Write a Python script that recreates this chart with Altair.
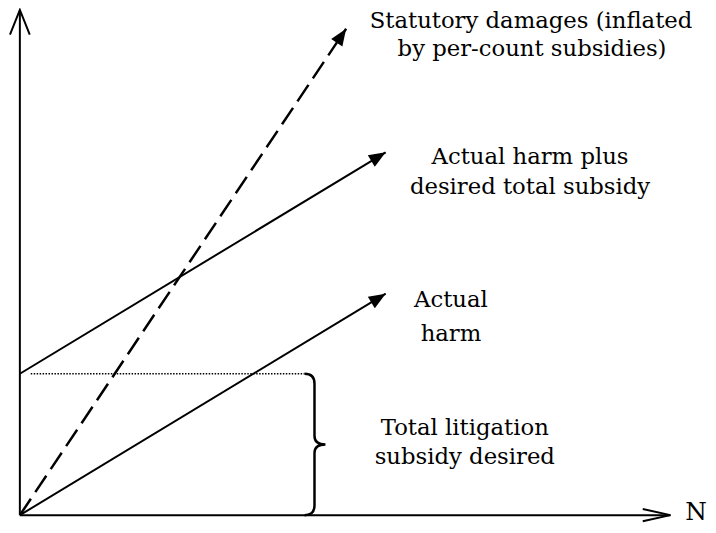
import math
import altair as alt
import pandas as pd

# ---------------- values (chart units: origin of the diagram at 0,0) ----------------
subsidy = 14.3                      # total litigation subsidy desired (intercept)
line_names = ["Actual harm", "Actual harm plus desired total subsidy", "Statutory damages"]
line_x0 = [0.0, 0.0, 0.0]
line_y0 = [0.0, subsidy, 0.0]
line_x1 = [37.0, 37.0, 33.0]
line_y1 = [22.4, 36.7, 49.2]
line_style = ["solid", "solid", "dashed"]

axis_x_end = 65.8
axis_y_end = 51.1
dotted_x = [1.1, 28.8]
brace_x = 29.8

label_text = ["Statutory damages (inflated", "by per-count subsidies)",
              "Actual harm plus", "desired total subsidy",
              "Actual", "harm",
              "Total litigation", "subsidy desired"]
label_x = [51.7, 51.8, 51.6, 51.6, 43.6, 43.6, 45.0, 45.0]
label_y = [49.3, 46.4, 35.5, 32.5, 21.1, 17.65, 8.13, 5.13]
axis_label = "N"

# ---------------- scales ----------------
xs = alt.Scale(domain=[-1.2, 69.6], nice=False, zero=False)
ys = alt.Scale(domain=[-0.7, 51.0], nice=False, zero=False)
FONT = "DejaVu Serif"

def X(f):
    return alt.X(f, type="quantitative", scale=xs, axis=None)

def Y(f):
    return alt.Y(f, type="quantitative", scale=ys, axis=None)

lines = pd.DataFrame({"name": line_names, "x0": line_x0, "y0": line_y0,
                      "x1": line_x1, "y1": line_y1, "style": line_style})
lines["angle"] = [math.degrees(math.atan2(a - b, c - d)) % 360
                  for a, b, c, d in zip(line_x1, line_x0, line_y1, line_y0)]

axes_df = pd.DataFrame({"x0": [0, 0], "y0": [0, 0], "x1": [axis_x_end, 0], "y1": [0, axis_y_end]})
dotted_df = pd.DataFrame({"x0": [dotted_x[0]], "x1": [dotted_x[1]], "y0": [subsidy]})
brace_df = pd.DataFrame({"x": [brace_x], "y": [subsidy / 2]})
labels_df = pd.DataFrame({"text": label_text, "x": label_x, "y": label_y})
n_df = pd.DataFrame({"text": [axis_label], "x": [axis_x_end + 1.5], "y": [-0.5]})
ytip_df = pd.DataFrame({"x": [0], "y": [axis_y_end]})
xtip_df = pd.DataFrame({"x": [axis_x_end], "y": [0]})

axes = alt.Chart(axes_df).mark_rule(color="black", strokeWidth=2).encode(
    x=X("x0"), y=Y("y0"), x2="x1", y2="y1")

dotted = alt.Chart(dotted_df).mark_rule(color="black", strokeWidth=1.5, strokeDash=[1.5, 1.5]).encode(
    x=X("x0"), x2="x1", y=Y("y0"))

solid = alt.Chart(lines[lines["style"] == "solid"]).mark_rule(color="black", strokeWidth=2).encode(
    x=X("x0"), y=Y("y0"), x2="x1", y2="y1")

dashed = alt.Chart(lines[lines["style"] == "dashed"]).mark_rule(
    color="black", strokeWidth=2.5, strokeDash=[20, 8]).encode(
    x=X("x0"), y=Y("y0"), x2="x1", y2="y1")

heads = alt.Chart(lines).mark_point(
    shape="M0,0L-0.4,1L0.4,1Z", filled=True, size=1156, opacity=1, color="black", strokeWidth=0.5).encode(
    x=X("x1"), y=Y("y1"), angle=alt.Angle("angle:Q", scale=None))

ytip = alt.Chart(ytip_df).mark_point(
    shape="M-0.4,1L0,0L0.4,1", filled=False, size=2500, opacity=1, color="black", strokeWidth=2).encode(
    x=X("x"), y=Y("y"))

xtip = alt.Chart(xtip_df).mark_point(
    shape="M-0.22,1L0,0L0.22,1", filled=False, size=3136, opacity=1, color="black", strokeWidth=2,
    angle=90).encode(x=X("x"), y=Y("y"))

brace = alt.Chart(brace_df).mark_point(
    shape="M-0.14,-1Q0,-1 0,-0.86L0,-0.12Q0,0 0.155,0Q0,0 0,0.12L0,0.86Q0,1 -0.14,1",
    filled=False, size=20449, opacity=1, color="black", strokeWidth=2.5).encode(
    x=X("x"), y=Y("y"))

labels = alt.Chart(labels_df).mark_text(
    font=FONT, fontSize=23, color="black", align="center", baseline="alphabetic").encode(
    x=X("x"), y=Y("y"), text="text")

n_label = alt.Chart(n_df).mark_text(
    font=FONT, fontSize=25, color="black", align="left", baseline="alphabetic").encode(
    x=X("x"), y=Y("y"), text="text")

chart = alt.layer(axes, dotted, solid, dashed, heads, ytip, xtip, brace, labels, n_label).properties(
    width=708, height=517, autosize=alt.AutoSizeParams(type="none"), padding=0, background="white"
).configure_view(stroke=None)

chart.save("out.html", embed_options={"renderer": "svg", "actions": False})
